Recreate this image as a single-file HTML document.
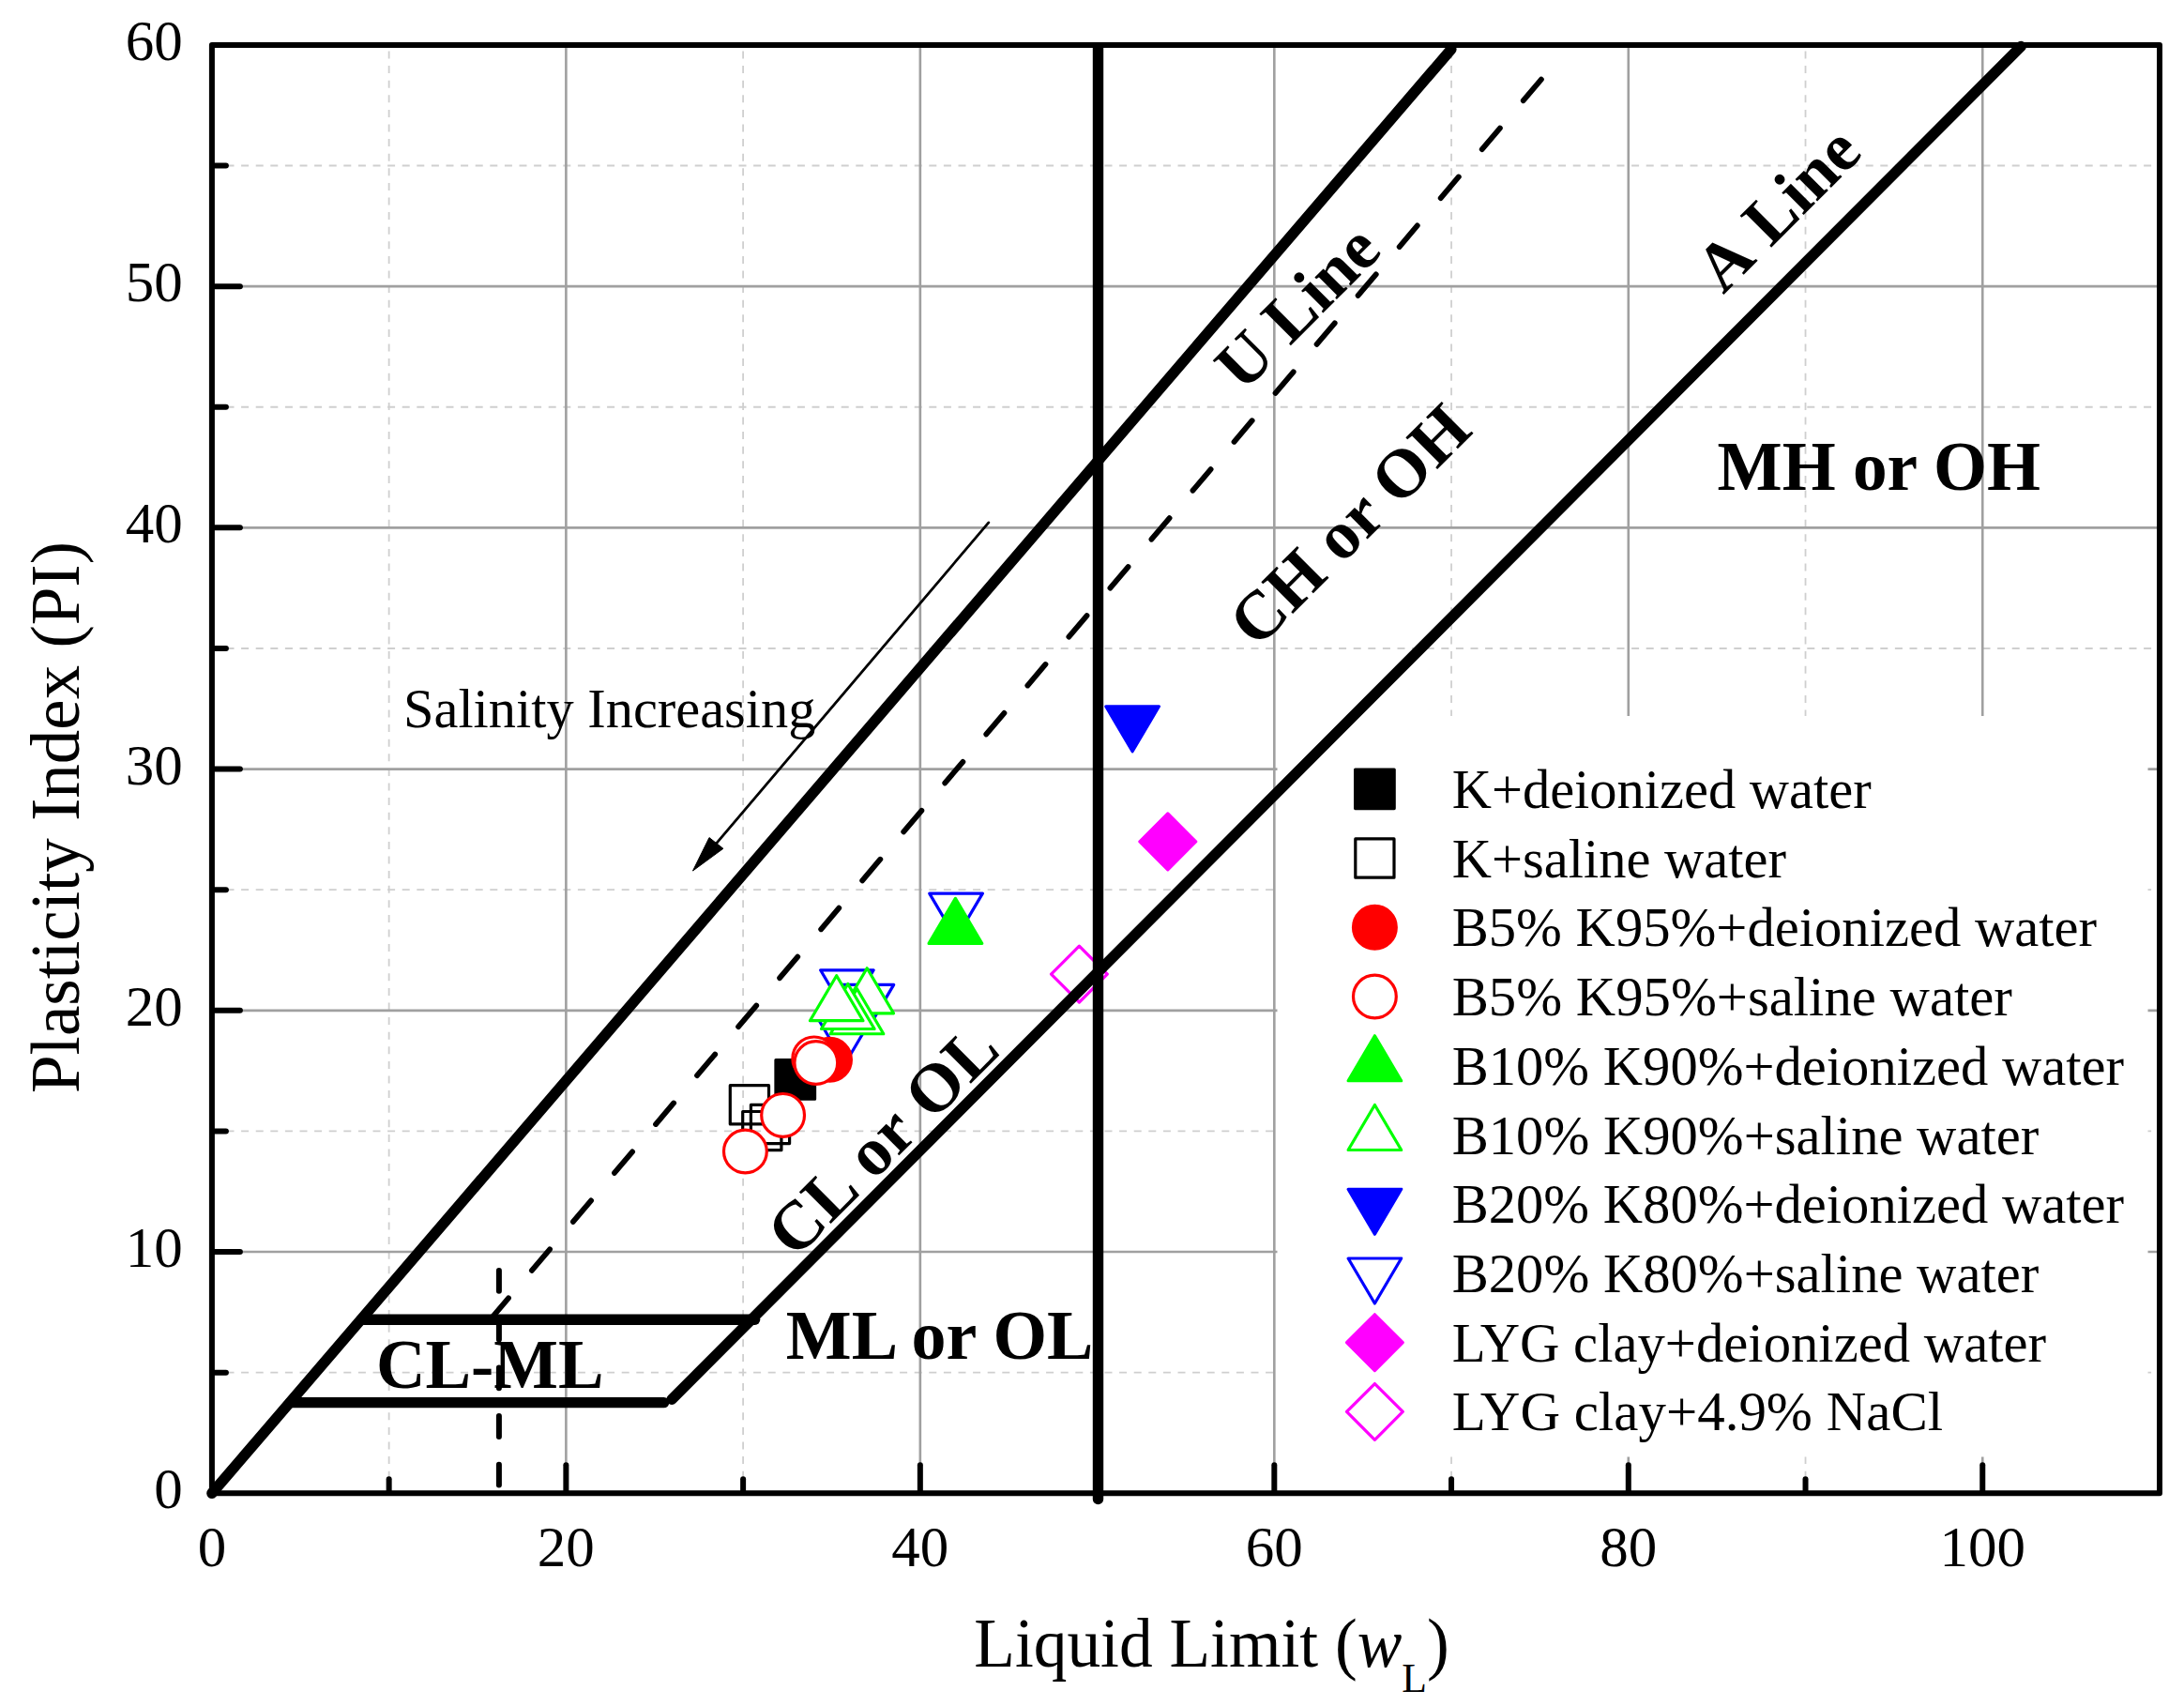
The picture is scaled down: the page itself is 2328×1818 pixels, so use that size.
<!DOCTYPE html>
<html lang="en"><head><meta charset="utf-8"><title>Plasticity chart</title>
<style>html,body{margin:0;padding:0;background:#fff;overflow:hidden}svg{display:block}text{font-family:"Liberation Serif","Times New Roman",serif;fill:#000}.b{font-weight:bold}</style></head><body>
<svg width="2328" height="1818" viewBox="0 0 2328 1818">
<rect width="2328" height="1818" fill="#fff"/>
<g stroke="#cfcfcf" stroke-width="1.8" fill="none" stroke-dasharray="8 7.6">
<line x1="414.64" y1="1591.3" x2="414.64" y2="47.9"/>
<line x1="792.11" y1="1591.3" x2="792.11" y2="47.9"/>
<line x1="1169.58" y1="1591.3" x2="1169.58" y2="47.9"/>
<line x1="1547.05" y1="1591.3" x2="1547.05" y2="47.9"/>
<line x1="1924.53" y1="1591.3" x2="1924.53" y2="47.9"/>
<line x1="225.9" y1="1462.68" x2="2302" y2="1462.68"/>
<line x1="225.9" y1="1205.45" x2="2302" y2="1205.45"/>
<line x1="225.9" y1="948.22" x2="2302" y2="948.22"/>
<line x1="225.9" y1="690.98" x2="2302" y2="690.98"/>
<line x1="225.9" y1="433.75" x2="2302" y2="433.75"/>
<line x1="225.9" y1="176.52" x2="2302" y2="176.52"/>
</g>
<g stroke="#a0a0a0" stroke-width="2.6" fill="none">
<line x1="603.37" y1="47.9" x2="603.37" y2="1591.3"/>
<line x1="980.85" y1="47.9" x2="980.85" y2="1591.3"/>
<line x1="1358.32" y1="47.9" x2="1358.32" y2="1591.3"/>
<line x1="1735.79" y1="47.9" x2="1735.79" y2="1591.3"/>
<line x1="2113.26" y1="47.9" x2="2113.26" y2="1591.3"/>
<line x1="225.9" y1="1334.07" x2="2302" y2="1334.07"/>
<line x1="225.9" y1="1076.83" x2="2302" y2="1076.83"/>
<line x1="225.9" y1="819.6" x2="2302" y2="819.6"/>
<line x1="225.9" y1="562.37" x2="2302" y2="562.37"/>
<line x1="225.9" y1="305.13" x2="2302" y2="305.13"/>
</g>
<rect x="1361.5" y="763" width="928" height="789.5" fill="#fff"/>
<g stroke="#000" stroke-width="6" stroke-linecap="round" fill="none">
<line x1="414.64" y1="1588.3" x2="414.64" y2="1576.3"/>
<line x1="603.37" y1="1588.3" x2="603.37" y2="1561.3"/>
<line x1="792.11" y1="1588.3" x2="792.11" y2="1576.3"/>
<line x1="980.85" y1="1588.3" x2="980.85" y2="1561.3"/>
<line x1="1169.58" y1="1588.3" x2="1169.58" y2="1576.3"/>
<line x1="1358.32" y1="1588.3" x2="1358.32" y2="1561.3"/>
<line x1="1547.05" y1="1588.3" x2="1547.05" y2="1576.3"/>
<line x1="1735.79" y1="1588.3" x2="1735.79" y2="1561.3"/>
<line x1="1924.53" y1="1588.3" x2="1924.53" y2="1576.3"/>
<line x1="2113.26" y1="1588.3" x2="2113.26" y2="1561.3"/>
<line x1="228.9" y1="1462.68" x2="240.9" y2="1462.68"/>
<line x1="228.9" y1="1334.07" x2="255.9" y2="1334.07"/>
<line x1="228.9" y1="1205.45" x2="240.9" y2="1205.45"/>
<line x1="228.9" y1="1076.83" x2="255.9" y2="1076.83"/>
<line x1="228.9" y1="948.22" x2="240.9" y2="948.22"/>
<line x1="228.9" y1="819.6" x2="255.9" y2="819.6"/>
<line x1="228.9" y1="690.98" x2="240.9" y2="690.98"/>
<line x1="228.9" y1="562.37" x2="255.9" y2="562.37"/>
<line x1="228.9" y1="433.75" x2="240.9" y2="433.75"/>
<line x1="228.9" y1="305.13" x2="255.9" y2="305.13"/>
<line x1="228.9" y1="176.52" x2="240.9" y2="176.52"/>
</g>
<g>
<path d="M900.5 1134L928.8 1086L872.2 1086Z" fill="#fff" stroke="#0000ff" stroke-width="3.2" stroke-linejoin="round"/>
<path d="M902.9 1081.8L931.2 1033.8L874.6 1033.8Z" fill="#fff" stroke="#0000ff" stroke-width="3.2" stroke-linejoin="round"/>
<path d="M924.4 1097.4L952.7 1049.4L896.1 1049.4Z" fill="#fff" stroke="#0000ff" stroke-width="3.2" stroke-linejoin="round"/>
<path d="M1019.05 1000.1L1047.35 952.1L990.75 952.1Z" fill="#fff" stroke="#0000ff" stroke-width="3.2" stroke-linejoin="round"/>
<path d="M1207.1 800.8L1235.4 752.8L1178.8 752.8Z" fill="#0000ff" stroke="#0000ff" stroke-width="3.2" stroke-linejoin="round"/>
<rect x="826.95" y="1129.55" width="41.6" height="41.6" fill="#000" stroke="#000" stroke-width="3.2" stroke-linejoin="round"/>
<rect x="778.3" y="1156.7" width="41.2" height="41.2" fill="none" stroke="#000" stroke-width="3.2" stroke-linejoin="round"/>
<rect x="791.7" y="1184.5" width="41.2" height="41.2" fill="none" stroke="#000" stroke-width="3.2" stroke-linejoin="round"/>
<rect x="800.4" y="1177.4" width="41.2" height="41.2" fill="none" stroke="#000" stroke-width="3.2" stroke-linejoin="round"/>
<circle cx="884.5" cy="1129.2" r="22.9" fill="#ff0000" stroke="#ff0000" stroke-width="3.2"/>
<circle cx="794.4" cy="1227" r="22.9" fill="#fff" stroke="#ff0000" stroke-width="3.2"/>
<circle cx="834.6" cy="1188.4" r="22.9" fill="#fff" stroke="#ff0000" stroke-width="3.2"/>
<circle cx="867.8" cy="1127.9" r="22.9" fill="#fff" stroke="#ff0000" stroke-width="3.2"/>
<circle cx="869.8" cy="1132.5" r="22.9" fill="#fff" stroke="#ff0000" stroke-width="3.2"/>
<path d="M1018.4 957.4L1046.7 1005.4L990.1 1005.4Z" fill="#00ff00" stroke="#00ff00" stroke-width="3.2" stroke-linejoin="round"/>
<path d="M924.2 1031.8L952.5 1079.8L895.9 1079.8Z" fill="#fff" stroke="#00ff00" stroke-width="3.2" stroke-linejoin="round"/>
<path d="M913.5 1053.75L941.8 1101.75L885.2 1101.75Z" fill="#fff" stroke="#00ff00" stroke-width="3.2" stroke-linejoin="round"/>
<path d="M903.8 1048.5L932.1 1096.5L875.5 1096.5Z" fill="#fff" stroke="#00ff00" stroke-width="3.2" stroke-linejoin="round"/>
<path d="M891.7 1039.7L920 1087.7L863.4 1087.7Z" fill="#fff" stroke="#00ff00" stroke-width="3.2" stroke-linejoin="round"/>
<path d="M1244.8 867L1274.7 896.9L1244.8 926.8L1214.9 896.9Z" fill="#ff00ff" stroke="#ff00ff" stroke-width="3.2" stroke-linejoin="round"/>
<path d="M1150.4 1008.2L1180.3 1038.1L1150.4 1068L1120.5 1038.1Z" fill="#fff" stroke="#ff00ff" stroke-width="3.2" stroke-linejoin="round"/>
</g>
<g stroke="#000" fill="none" stroke-linecap="round">
<line x1="225.9" y1="1591.3" x2="1546.9" y2="52.5" stroke-width="11.4"/>
<line x1="716.1" y1="1491.3" x2="2154.2" y2="49.5" stroke-width="11.4"/>
<line x1="385.5" y1="1406.3" x2="804.6" y2="1406.3" stroke-width="11.4"/>
<line x1="309.5" y1="1494.6" x2="707.6" y2="1494.6" stroke-width="11.4"/>
<line x1="1170.5" y1="50.6" x2="1170.5" y2="1597.5" stroke-width="11.4"/>
<line x1="1642.9" y1="84.6" x2="522.7" y2="1406" stroke-width="5.8" stroke-dasharray="29.6 38.5"/>
<line x1="531.9" y1="1354" x2="531.9" y2="1583" stroke-width="6" stroke-dasharray="21.8 29.9"/>
</g>
<line x1="1053.8" y1="556.9" x2="760.9" y2="902" stroke="#000" stroke-width="2.8" stroke-linecap="round"/>
<path d="M738.5 928 L756 892.6 L770.9 904.3 Z" fill="#000" stroke="#000" stroke-width="1" stroke-linejoin="round"/>
<rect x="225.9" y="47.9" width="2076.1" height="1543.4" fill="none" stroke="#000" stroke-width="6" stroke-linejoin="round"/>
<g font-size="61" text-anchor="middle">
<text x="225.9" y="1668.9">0</text>
<text x="603.37" y="1668.9">20</text>
<text x="980.85" y="1668.9">40</text>
<text x="1358.32" y="1668.9">60</text>
<text x="1735.79" y="1668.9">80</text>
<text x="2113.26" y="1668.9">100</text>
</g>
<g font-size="61" text-anchor="end">
<text x="194.8" y="1607.4">0</text>
<text x="194.8" y="1350.17">10</text>
<text x="194.8" y="1092.93">20</text>
<text x="194.8" y="835.7">30</text>
<text x="194.8" y="578.47">40</text>
<text x="194.8" y="321.23">50</text>
<text x="194.8" y="64">60</text>
</g>
<text transform="translate(1038.3 1775.8) scale(0.9714 1)" font-size="73.5">Liquid Limit (<tspan font-style="italic">w</tspan><tspan font-size="45" dy="27.5">L</tspan><tspan dy="-27.5">)</tspan></text>
<text transform="translate(83.5 1165) rotate(-90)" font-size="73">Plasticity Index (PI)</text>
<g class="b" font-size="73">
<text x="1830.5" y="521.9" textLength="344.6" lengthAdjust="spacingAndGlyphs">MH or OH</text>
<text x="837.8" y="1447.9" textLength="327.5" lengthAdjust="spacingAndGlyphs">ML or OL</text>
<text x="401" y="1478.5" textLength="242.5" lengthAdjust="spacingAndGlyphs">CL-ML</text>
<text transform="translate(1325.1 418.9) rotate(-45)" font-size="72.5">U Line</text>
<text transform="translate(1837.1 314.6) rotate(-45)" font-size="72.5" word-spacing="4.5">A Line</text>
<text transform="translate(1340 692.2) rotate(-45)">CH or OH</text>
<text transform="translate(847.4 1342.4) rotate(-45)" word-spacing="2.8">CL or OL</text>
</g>
<text x="430" y="775.4" font-size="58.4">Salinity Increasing</text>
<g font-size="58.4">
<text x="1547.7" y="861" textLength="447" lengthAdjust="spacingAndGlyphs">K+deionized water</text>
<text x="1547.7" y="934.7" textLength="356.3" lengthAdjust="spacingAndGlyphs">K+saline water</text>
<text x="1547.7" y="1008.4" textLength="687.4" lengthAdjust="spacingAndGlyphs">B5% K95%+deionized water</text>
<text x="1547.7" y="1082.1" textLength="597.2" lengthAdjust="spacingAndGlyphs">B5% K95%+saline water</text>
<text x="1547.7" y="1155.8" textLength="716.3" lengthAdjust="spacingAndGlyphs">B10% K90%+deionized water</text>
<text x="1547.7" y="1229.5" textLength="625.6" lengthAdjust="spacingAndGlyphs">B10% K90%+saline water</text>
<text x="1547.7" y="1303.2" textLength="716.3" lengthAdjust="spacingAndGlyphs">B20% K80%+deionized water</text>
<text x="1547.7" y="1376.9" textLength="625.6" lengthAdjust="spacingAndGlyphs">B20% K80%+saline water</text>
<text x="1547.7" y="1450.6" textLength="633.4" lengthAdjust="spacingAndGlyphs">LYG clay+deionized water</text>
<text x="1547.7" y="1524.3" textLength="523.5" lengthAdjust="spacingAndGlyphs">LYG clay+4.9% NaCl</text>
</g>
<g>
<rect x="1444.6" y="820" width="41.6" height="41.6" fill="#000" stroke="#000" stroke-width="3.2" stroke-linejoin="round"/>
<rect x="1444.8" y="893.94" width="41.2" height="41.2" fill="none" stroke="#000" stroke-width="3.2" stroke-linejoin="round"/>
<circle cx="1465.4" cy="988.28" r="22.9" fill="#ff0000" stroke="#ff0000" stroke-width="3.2"/>
<circle cx="1465.4" cy="1062.02" r="22.9" fill="#fff" stroke="#ff0000" stroke-width="3.2"/>
<path d="M1465.4 1103.76L1493.7 1151.76L1437.1 1151.76Z" fill="#00ff00" stroke="#00ff00" stroke-width="3.2" stroke-linejoin="round"/>
<path d="M1465.4 1177.5L1493.7 1225.5L1437.1 1225.5Z" fill="#fff" stroke="#00ff00" stroke-width="3.2" stroke-linejoin="round"/>
<path d="M1465.4 1315.24L1493.7 1267.24L1437.1 1267.24Z" fill="#0000ff" stroke="#0000ff" stroke-width="3.2" stroke-linejoin="round"/>
<path d="M1465.4 1388.98L1493.7 1340.98L1437.1 1340.98Z" fill="#fff" stroke="#0000ff" stroke-width="3.2" stroke-linejoin="round"/>
<path d="M1465.4 1400.82L1495.3 1430.72L1465.4 1460.62L1435.5 1430.72Z" fill="#ff00ff" stroke="#ff00ff" stroke-width="3.2" stroke-linejoin="round"/>
<path d="M1465.4 1474.56L1495.3 1504.46L1465.4 1534.36L1435.5 1504.46Z" fill="#fff" stroke="#ff00ff" stroke-width="3.2" stroke-linejoin="round"/>
</g>
</svg></body></html>
